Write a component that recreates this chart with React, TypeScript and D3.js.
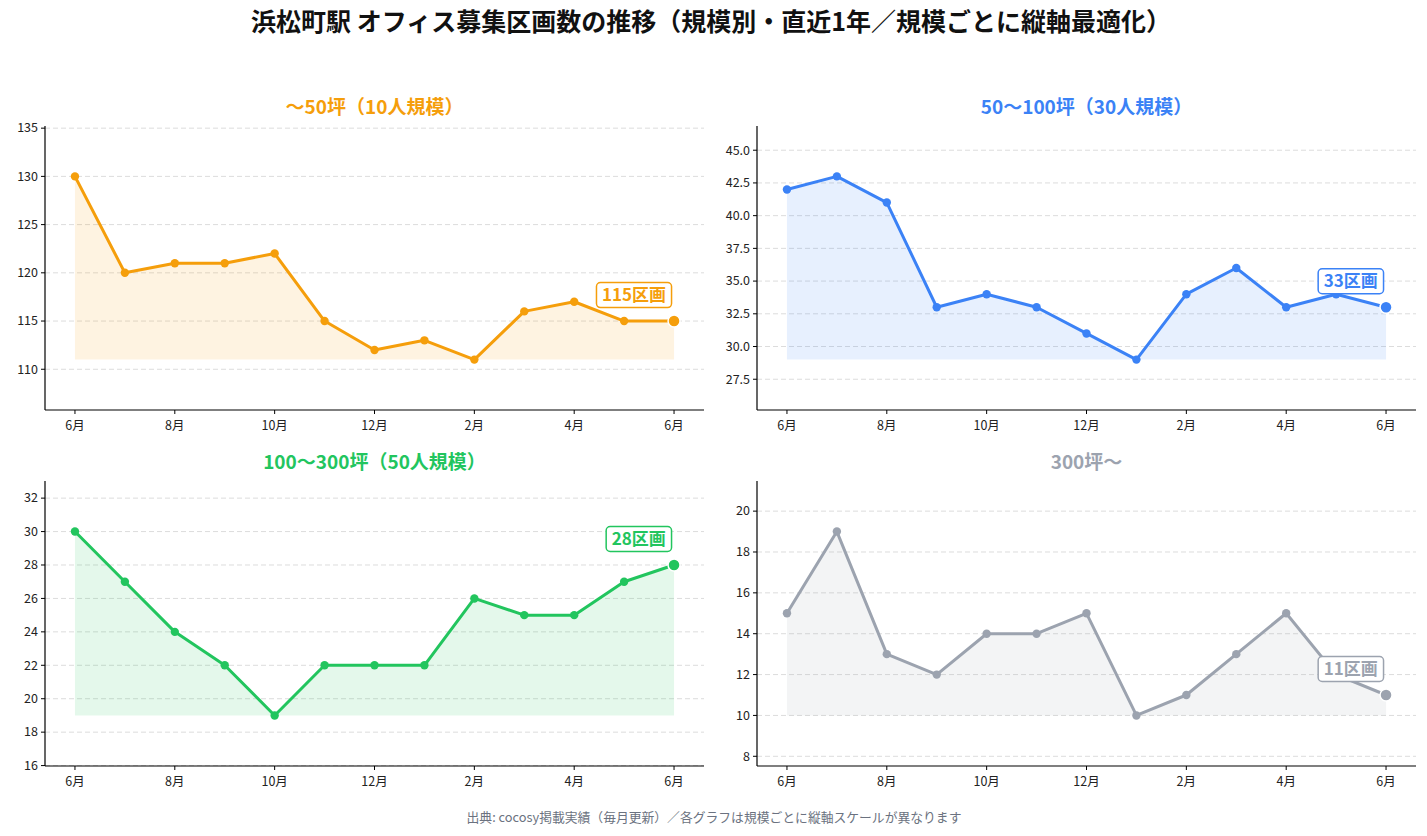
import React from "react";
import * as d3 from "d3";

const MONTHS = ["6月", "7月", "8月", "9月", "10月", "11月", "12月", "1月", "2月", "3月", "4月", "5月", "6月"];

const SMALL_TITLE = "〜50坪（10人規模）";
const SMALL_VALUES = [130, 120, 121, 121, 122, 115, 112, 113, 111, 116, 117, 115, 115];
const SMALL_TICKS = [110, 115, 120, 125, 130, 135];

const MID_TITLE = "50〜100坪（30人規模）";
const MID_VALUES = [42, 43, 41, 33, 34, 33, 31, 29, 34, 36, 33, 34, 33];
const MID_TICKS = [27.5, 30, 32.5, 35, 37.5, 40, 42.5, 45];

const LARGE_TITLE = "100〜300坪（50人規模）";
const LARGE_VALUES = [30, 27, 24, 22, 19, 22, 22, 22, 26, 25, 25, 27, 28];
const LARGE_TICKS = [16, 18, 20, 22, 24, 26, 28, 30, 32];

const XL_TITLE = "300坪〜";
const XL_VALUES = [15, 19, 13, 12, 14, 14, 15, 10, 11, 13, 15, 12, 11];
const XL_TICKS = [8, 10, 12, 14, 16, 18, 20];

const MAIN_TITLE = "浜松町駅 オフィス募集区画数の推移（規模別・直近1年／規模ごとに縦軸最適化）";
const FOOTNOTE = "出典: cocosy掲載実績（毎月更新）／各グラフは規模ごとに縦軸スケールが異なります";

const FONT = "'Noto Sans CJK JP', 'Noto Sans', sans-serif";

type PanelSpec = {
  title: string;
  values: number[];
  ticks: number[];
  tickFmt: (v: number) => string;
  color: string;
  box: { x0: number; x1: number; y0: number; y1: number };
};

const panels: PanelSpec[] = [
  { title: SMALL_TITLE, values: SMALL_VALUES, ticks: SMALL_TICKS, tickFmt: d3.format("d"), color: "#f59e0b", box: { x0: 45, x1: 704, y0: 126, y1: 410 } },
  { title: MID_TITLE, values: MID_VALUES, ticks: MID_TICKS, tickFmt: d3.format(".1f"), color: "#3b82f6", box: { x0: 757, x1: 1416, y0: 126, y1: 410 } },
  { title: LARGE_TITLE, values: LARGE_VALUES, ticks: LARGE_TICKS, tickFmt: d3.format("d"), color: "#22c55e", box: { x0: 45, x1: 704, y0: 481, y1: 766 } },
  { title: XL_TITLE, values: XL_VALUES, ticks: XL_TICKS, tickFmt: d3.format("d"), color: "#9ca3af", box: { x0: 757, x1: 1416, y0: 481, y1: 766 } },
];

const LABEL_FS = 17;

function Panel({ spec }: { spec: PanelSpec }) {
  const { values, ticks, color, box, title, tickFmt } = spec;
  const n = values.length;
  const x = d3.scaleLinear().domain([-0.05 * (n - 1), (n - 1) * 1.05]).range([box.x0, box.x1]);
  const lo = d3.min(values)!;
  const hi = d3.max(values)!;
  const pad = (hi - lo) * 0.275;
  const y = d3.scaleLinear().domain([lo - pad, hi + pad]).range([box.y1, box.y0]);

  const line = d3.line<number>().x((_, i) => x(i)).y((v) => y(v));
  const area = d3.area<number>().x((_, i) => x(i)).y0(y(lo)).y1((v) => y(v));

  const last = n - 1;
  const lx = x(last);
  const ly = y(values[last]);
  const num = String(values[last]);
  const label = `${num}区画`;
  const labelW = num.length * 0.57 * LABEL_FS + 2 * LABEL_FS + 12;
  // label box is right-aligned just left of the final point
  const right = lx - 2.5;
  const cx = right - labelW / 2;
  const cy = ly - 26;

  return (
    <g>
      <text x={(box.x0 + box.x1) / 2} y={box.y0 - 12} textAnchor="middle" fontFamily={FONT} fontWeight={700} fontSize={19} fill={color}>
        {title}
      </text>
      {ticks.map((t) => (
        <line key={"g" + t} x1={box.x0} x2={box.x1} y1={y(t)} y2={y(t)} stroke="#dcdcdc" strokeWidth={1} strokeDasharray="5,3" />
      ))}
      <path d={area(values)!} fill={color} fillOpacity={0.12} />
      <path d={line(values)!} fill="none" stroke={color} strokeWidth={3} strokeLinejoin="round" />
      {values.map((v, i) =>
        i === last ? null : <circle key={i} cx={x(i)} cy={y(v)} r={4.2} fill={color} />
      )}
      <circle cx={lx} cy={ly} r={6} fill={color} stroke="#fff" strokeWidth={1.5} />
      <rect x={cx - labelW / 2} y={cy - 12.5} width={labelW} height={25} rx={4} fill="#fff" stroke={color} strokeWidth={1.5} />
      <text x={cx} y={cy + 6} textAnchor="middle" fontFamily={FONT} fontWeight={700} fontSize={LABEL_FS} fill={color}>
        {label}
      </text>
      {/* axes spines */}
      <line x1={box.x0} x2={box.x0} y1={box.y0} y2={box.y1} stroke="#000" strokeWidth={1.2} />
      <line x1={box.x0} x2={box.x1} y1={box.y1} y2={box.y1} stroke="#000" strokeWidth={1.2} />
      {ticks.map((t) => (
        <g key={"t" + t}>
          <line x1={box.x0 - 4} x2={box.x0} y1={y(t)} y2={y(t)} stroke="#000" strokeWidth={1} />
          <text x={box.x0 - 7} y={y(t) + 4.3} textAnchor="end" fontFamily={FONT} fontSize={12.5} fill="#222">
            {tickFmt(t)}
          </text>
        </g>
      ))}
      {MONTHS.map((m, i) =>
        i % 2 === 0 ? (
          <g key={"x" + i}>
            <line x1={x(i)} x2={x(i)} y1={box.y1} y2={box.y1 + 4} stroke="#000" strokeWidth={1} />
            <text x={x(i)} y={box.y1 + 20} textAnchor="middle" fontFamily={FONT} fontSize={12.5} fill="#222">
              {m}
            </text>
          </g>
        ) : null
      )}
    </g>
  );
}

export default function App() {
  return (
    <svg width={1427} height={836} style={{ position: "absolute", left: 0, top: 0, background: "#fff" }}>
      <rect width={1427} height={836} fill="#fff" />
      <text x={711} y={31} textAnchor="middle" fontFamily={FONT} fontWeight={700} fontSize={25} fill="#111">
        {MAIN_TITLE}
      </text>
      {panels.map((p, i) => (
        <Panel key={i} spec={p} />
      ))}
      <text x={714} y={822} textAnchor="middle" fontFamily={FONT} fontSize={12.8} fill="#6b7280">
        {FOOTNOTE}
      </text>
    </svg>
  );
}
